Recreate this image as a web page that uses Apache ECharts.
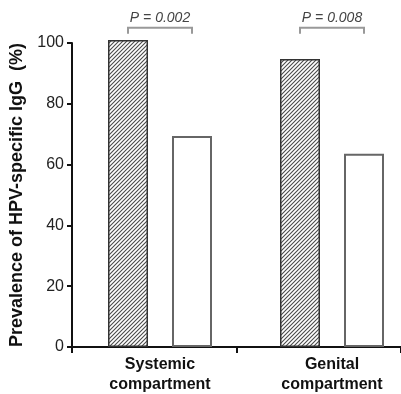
<!DOCTYPE html>
<html><head><meta charset="utf-8">
<script src="https://cdn.jsdelivr.net/npm/echarts@6/dist/echarts.min.js"></script>
<style>html,body{margin:0;padding:0;background:#fff}#c{width:401px;height:394px}</style>
</head><body><div id="c"></div>
<script>
const categories = ['Systemic\ncompartment', 'Genital\ncompartment'];
const hatchedValues = [101, 94.7];
const openValues = [69.4, 63.6];
const pLabels = ['P = 0.002', 'P = 0.008'];
const bracketLevel = [105, 105];
const yMin = 0, yMax = 100, yStep = 20;
const yTitle = 'Prevalence of HPV-specific IgG  (%)';

const BAR_W = 40, BAR_GAP = 24;
const FONT = '"Liberation Sans", Arial, Helvetica, sans-serif';

// hatch pattern
const pat = document.createElement('canvas');
pat.width = 4; pat.height = 4;
const g = pat.getContext('2d');
g.fillStyle = '#fff'; g.fillRect(0, 0, 4, 4);
g.strokeStyle = '#4a4a4a'; g.lineWidth = 1.1;
g.beginPath();
g.moveTo(0, 4); g.lineTo(4, 0);
g.moveTo(-1, 1); g.lineTo(1, -1);
g.moveTo(3, 5); g.lineTo(5, 3);
g.stroke();

const chart = echarts.init(document.getElementById('c'), null, {renderer: 'canvas'});
chart.setOption({
  animation: false,
  backgroundColor: '#fff',
  grid: [
    {left: 72, width: 329, top: 43, bottom: 47, outerBoundsMode: 'none', containLabel: false},
    {left: 74, width: 344, top: 43, bottom: 47, outerBoundsMode: 'none', containLabel: false}
  ],
  xAxis: [
    {
      gridIndex: 0, type: 'category', data: categories,
      axisLine: {lineStyle: {color: '#111', width: 2}},
      axisTick: {show: true, length: 6, lineStyle: {color: '#111', width: 2}},
      axisLabel: {show: false}
    },
    {
      gridIndex: 1, type: 'category', data: categories,
      axisLine: {show: false}, axisTick: {show: false},
      axisLabel: {show: true, color: '#111', fontFamily: FONT, fontWeight: 'bold', fontSize: 16, lineHeight: 20, margin: 8}
    }
  ],
  yAxis: [
    {
      gridIndex: 0, type: 'value', min: yMin, max: yMax, interval: yStep,
      splitLine: {show: false},
      axisLine: {show: true, lineStyle: {color: '#111', width: 2}},
      axisTick: {show: true, length: 5, lineStyle: {color: '#111', width: 2}},
      axisLabel: {color: '#222', fontFamily: FONT, fontSize: 16, margin: 8},
      name: yTitle, nameLocation: 'middle', nameGap: 45,
      nameTextStyle: {color: '#111', fontFamily: FONT, fontWeight: 'bold', fontSize: 18}
    },
    {
      gridIndex: 1, type: 'value', min: yMin, max: yMax, show: false
    }
  ],
  series: [
    {
      type: 'bar', xAxisIndex: 1, yAxisIndex: 1, data: hatchedValues,
      barWidth: BAR_W, barGap: (BAR_GAP / BAR_W * 100) + '%', clip: false,
      itemStyle: {color: {image: pat, repeat: 'repeat'}, borderColor: '#333', borderWidth: 1.5}
    },
    {
      type: 'bar', xAxisIndex: 1, yAxisIndex: 1, data: openValues,
      barWidth: BAR_W, clip: false,
      itemStyle: {color: '#fff', borderColor: '#666', borderWidth: 2}
    },
    {
      type: 'custom', xAxisIndex: 1, yAxisIndex: 1, clip: false,
      data: bracketLevel.map((v, i) => [i, v]),
      renderItem: function (params, api) {
        const c = api.coord([api.value(0), api.value(1)]);
        const half = (BAR_W + BAR_GAP) / 2;
        return {
          type: 'group',
          children: [
            {type: 'polyline', shape: {points: [[c[0] - half, c[1] + 6], [c[0] - half, c[1]], [c[0] + half, c[1]], [c[0] + half, c[1] + 6]]},
             style: {stroke: '#999', lineWidth: 2, fill: null}},
            {type: 'text', x: c[0], y: c[1] - 3,
             style: {text: pLabels[params.dataIndex], textAlign: 'center', textVerticalAlign: 'bottom',
                     font: 'italic 14px ' + FONT, fill: '#444'}}
          ]
        };
      }
    }
  ]
});
</script></body></html>
